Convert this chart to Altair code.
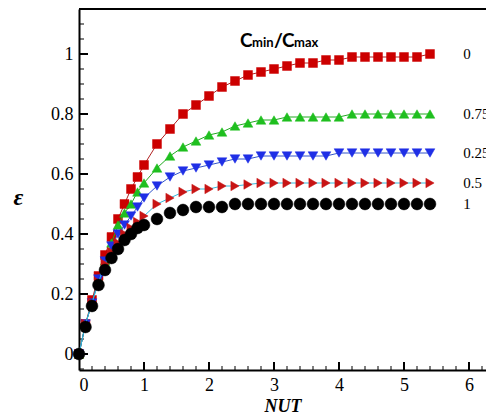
import altair as alt
import pandas as pd

# ---- data ----
ntu = [0, 0.1, 0.2, 0.3, 0.4, 0.5, 0.6, 0.7, 0.8, 0.9, 1.0,
       1.2, 1.4, 1.6, 1.8, 2.0, 2.2, 2.4, 2.6, 2.8, 3.0, 3.2, 3.4, 3.6, 3.8,
       4.0, 4.2, 4.4, 4.6, 4.8, 5.0, 5.2, 5.4]

eps_0 = [0, 0.10, 0.18, 0.26, 0.33, 0.39, 0.45, 0.50, 0.55, 0.59, 0.63,
         0.70, 0.75, 0.80, 0.83, 0.86, 0.89, 0.91, 0.93, 0.94, 0.95, 0.96, 0.97, 0.97, 0.98,
         0.98, 0.99, 0.99, 0.99, 0.99, 0.99, 0.99, 1.00]
eps_075 = [0, 0.10, 0.17, 0.25, 0.31, 0.37, 0.43, 0.47, 0.50, 0.54, 0.57,
           0.62, 0.66, 0.69, 0.71, 0.73, 0.74, 0.76, 0.77, 0.78, 0.78, 0.79, 0.79, 0.79, 0.79,
           0.79, 0.80, 0.80, 0.80, 0.80, 0.80, 0.80, 0.80]
eps_025 = [0, 0.10, 0.17, 0.25, 0.31, 0.36, 0.40, 0.43, 0.46, 0.49, 0.52,
           0.56, 0.59, 0.61, 0.62, 0.63, 0.64, 0.65, 0.65, 0.66, 0.66, 0.66, 0.66, 0.66, 0.66,
           0.67, 0.67, 0.67, 0.67, 0.67, 0.67, 0.67, 0.67]
eps_05 = [0, 0.10, 0.17, 0.24, 0.30, 0.34, 0.37, 0.40, 0.42, 0.44, 0.46,
          0.50, 0.52, 0.54, 0.55, 0.55, 0.56, 0.56, 0.565, 0.57, 0.57, 0.57, 0.57, 0.57, 0.57,
          0.57, 0.57, 0.57, 0.57, 0.57, 0.57, 0.57, 0.57]
eps_1 = [0, 0.09, 0.16, 0.23, 0.28, 0.32, 0.35, 0.38, 0.40, 0.42, 0.43,
         0.45, 0.47, 0.48, 0.49, 0.49, 0.49, 0.50, 0.50, 0.50, 0.50, 0.50, 0.50, 0.50, 0.50,
         0.50, 0.50, 0.50, 0.50, 0.50, 0.50, 0.50, 0.50]

series_labels = ["0", "0.75", "0.25", "0.5", "1"]
series_values = [eps_0, eps_075, eps_025, eps_05, eps_1]
series_shapes = ["square", "triangle-up", "triangle-down", "triangle-right", "circle"]
series_fill = ["#cc0000", "#1fbf1f", "#1f2fe6", "#c81414", "#000000"]
series_line = ["#b22222", "#22aa22", "#3355cc", "#33bbdd", None]
series_size = [80, 95, 95, 90, 140]

x_tick_labels = [0, 1, 2, 3, 4, 5, 6]
y_tick_labels = [0, 0.2, 0.4, 0.6, 0.8, 1]
x_minor = [round(i * 0.2, 2) for i in range(1, 32) if i % 5 != 0]
x_major = [1, 2, 3, 4, 5, 6]
y_minor = [round(-0.05 + i * 0.05, 2) for i in range(0, 25) if (i - 1) % 4 != 0]
y_major = y_tick_labels

SERIF = "Times New Roman, Liberation Serif, serif"

# ---- geometry ----
W, H = 407, 361
xdom = [0, W / 65.0]
ydom = [1.15 - H / 300.0, 1.15]
xs = alt.Scale(domain=xdom, nice=False, zero=False)
ys = alt.Scale(domain=ydom, nice=False, zero=False)

x_axis = alt.Axis(values=x_tick_labels, format="~g", tickSize=0, labelPadding=6,
                  domainColor="black", domainWidth=2, grid=False,
                  labelFont=SERIF, labelFontSize=18, labelColor="black",
                  title="NUT", titleFont=SERIF, titleFontSize=18,
                  titleFontStyle="italic", titleFontWeight="bold", titleColor="black",
                  titlePadding=3)
y_axis = alt.Axis(values=y_tick_labels, format="~g", tickSize=0, labelPadding=6,
                  domainColor="black", domainWidth=2, grid=False,
                  labelFont=SERIF, labelFontSize=18, labelColor="black",
                  title="ε", titleFont=SERIF, titleFontSize=24,
                  titleFontStyle="italic", titleFontWeight="bold", titleColor="black",
                  titleAngle=0, titleX=-61, titleY=188, titleAlign="center",
                  titleBaseline="middle")

X = alt.X("ntu:Q", scale=xs, axis=x_axis)
Y = alt.Y("eps:Q", scale=ys, axis=y_axis)

one = pd.DataFrame({"k": [0]})

layers = []
# ticks (inward)
tx_major = pd.DataFrame({"ntu": x_major})
tx_minor = pd.DataFrame({"ntu": x_minor})
ty_major = pd.DataFrame({"eps": y_major})
ty_minor = pd.DataFrame({"eps": y_minor})
layers.append(alt.Chart(tx_major).mark_rule(color="black", strokeWidth=2).encode(
    x=X, y=alt.value(H), y2=alt.value(H - 8)))
layers.append(alt.Chart(tx_minor).mark_rule(color="black", strokeWidth=1).encode(
    x=X, y=alt.value(H), y2=alt.value(H - 4)))
layers.append(alt.Chart(ty_major).mark_rule(color="black", strokeWidth=2).encode(
    y=Y, x=alt.value(0), x2=alt.value(9)))
layers.append(alt.Chart(ty_minor).mark_rule(color="black", strokeWidth=1).encode(
    y=Y, x=alt.value(0), x2=alt.value(5)))
# top frame
layers.append(alt.Chart(one).mark_rule(color="black", strokeWidth=2).encode(
    x=alt.value(0), x2=alt.value(W), y=alt.value(0)))

for lab, vals, shp, fc, lc, sz in zip(series_labels, series_values, series_shapes,
                                       series_fill, series_line, series_size):
    d = pd.DataFrame({"ntu": ntu, "eps": vals})
    base = alt.Chart(d).encode(x=X, y=Y)
    if lc:
        layers.append(base.mark_line(color=lc, strokeWidth=1))
    layers.append(base.mark_point(shape=shp, filled=True, fill=fc, size=sz,
                                  opacity=1, stroke=fc, strokeWidth=0.5))

# series labels at the right
lab_df = pd.DataFrame({"lab": series_labels, "eps": [v[-1] for v in series_values]})
layers.append(alt.Chart(lab_df).mark_text(align="left", baseline="middle",
                                          font=SERIF, fontSize=15,
                                          color="black").encode(
    x=alt.datum(5.91), y=Y, text="lab:N"))

# legend title Cmin/Cmax
title_parts = [("C", 161, 19), ("min", 173, 13), ("/", 195, 19), ("C", 203, 19), ("max", 215, 13)]
for txt, px, fs in title_parts:
    layers.append(alt.Chart(one).mark_text(align="left", baseline="alphabetic",
                                           font="Lato", fontWeight="bold",
                                           fontSize=fs, color="black").encode(
        x=alt.value(px), y=alt.value(38), text=alt.value(txt)))

chart = alt.layer(*layers).properties(
    width=W, height=H,
    padding={"left": 79, "top": 9, "right": 0, "bottom": 45},
    autosize=alt.AutoSizeParams(type="none"),
).configure_view(stroke=None)

chart.save("out.html", embed_options={"renderer": "svg", "actions": False})
